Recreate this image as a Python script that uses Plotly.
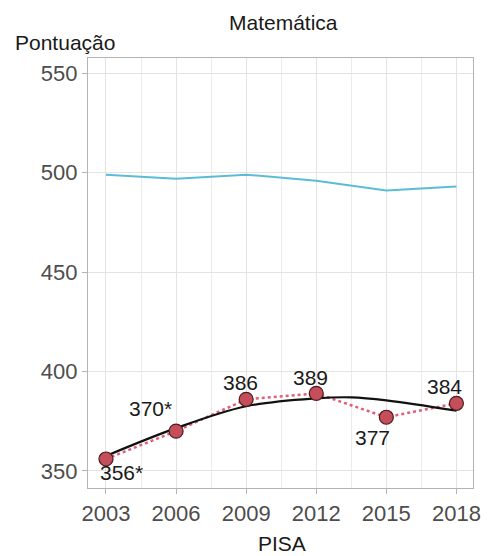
import plotly.graph_objects as go

years = [2003, 2006, 2009, 2012, 2015, 2018]
brasil = [356, 370, 386, 389, 377, 384]
labels = ["356*", "370*", "386", "389", "377", "384"]
ocde = [499, 497, 499, 496, 491, 493]
trend_x = [2003, 2006, 2009, 2012, 2013.5, 2015, 2018]
trend_y = [357.5, 371.5, 382.5, 386.5, 387.0, 385.5, 380.3]
label_dx = [16, -26, -6, -6, -14, -12]
label_dy = [-14, 23, 17, 16, -20, 17]

FONT = "Liberation Sans, Arial, sans-serif"

fig = go.Figure()
fig.add_trace(go.Scatter(x=years, y=ocde, mode="lines",
                         line=dict(color="#5bbcd6", width=2), hoverinfo="skip"))
fig.add_trace(go.Scatter(x=years, y=brasil, mode="lines",
                         line=dict(color="#e0607a", width=2.5, dash="dot"), hoverinfo="skip"))
fig.add_trace(go.Scatter(x=trend_x, y=trend_y, mode="lines",
                         line=dict(color="#111111", width=2.2, shape="spline", smoothing=1.0),
                         hoverinfo="skip"))
fig.add_trace(go.Scatter(x=years, y=brasil, mode="markers",
                         marker=dict(size=14, color="#c44e5a", line=dict(color="#4a1a1e", width=1.2)),
                         hoverinfo="skip"))

annotations = []
for x, y, t, dx, dy in zip(years, brasil, labels, label_dx, label_dy):
    annotations.append(dict(x=x, y=y, xref="x", yref="y", text=t, showarrow=False,
                            xanchor="center", yanchor="middle", xshift=dx, yshift=dy,
                            font=dict(size=21, color="#1a1a1a", family=FONT)))
annotations += [
    dict(text="Matemática", x=0.508, xref="paper", y=1, yref="paper", yanchor="middle",
         yshift=36, showarrow=False, font=dict(size=21, color="#1a1a1a", family=FONT)),
    dict(text="Pontuação", x=0, xref="paper", xanchor="left", xshift=-75, y=1, yref="paper",
         yanchor="middle", yshift=16, showarrow=False, font=dict(size=21, color="#1a1a1a", family=FONT)),
    dict(text="PISA", x=0.505, xref="paper", y=0, yref="paper", yanchor="middle",
         yshift=-55, showarrow=False, font=dict(size=21, color="#1a1a1a", family=FONT)),
]

fig.update_layout(
    autosize=True,
    margin=dict(l=88, r=11, t=58, b=68),
    paper_bgcolor="white", plot_bgcolor="white",
    showlegend=False,
    font=dict(family=FONT, color="#4d4d4d"),
    annotations=annotations,
)
fig.update_xaxes(
    range=[2002.23, 2018.71], tickvals=years, ticktext=[str(y) for y in years],
    tickfont=dict(size=22, color="#4d4d4d"),
    showgrid=True, gridcolor="#e3e3e3", gridwidth=1,
    minor=dict(tickvals=[2004.5, 2007.5, 2010.5, 2013.5, 2016.5], showgrid=True,
               gridcolor="#ebebeb", gridwidth=1),
    ticks="outside", ticklen=5, tickcolor="#b3b3b3",
    showline=True, linecolor="#b3b3b3", linewidth=1.2, mirror=True,
    zeroline=False,
)
fig.update_yaxes(
    range=[341.4, 557.7], tickvals=[350, 400, 450, 500, 550],
    tickfont=dict(size=22, color="#4d4d4d"),
    showgrid=True, gridcolor="#e3e3e3", gridwidth=1,
    ticks="outside", ticklen=5, tickcolor="#b3b3b3",
    showline=True, linecolor="#b3b3b3", linewidth=1.2, mirror=True,
    zeroline=False,
)

post = (
    "document.documentElement.style.height='100%';"
    "document.documentElement.style.margin='0';"
    "document.body.style.margin='0';"
    "document.body.style.height='100%';"
    "document.body.style.overflow='hidden';"
    "var gd=document.getElementById('{plot_id}');"
    "if(gd&&gd.parentElement){gd.parentElement.style.height='100%';}"
    "Plotly.Plots.resize(gd);"
)
fig.write_html("out.html", config={"displayModeBar": False, "responsive": True},
               default_width="100%", default_height="100%", post_script=post)
